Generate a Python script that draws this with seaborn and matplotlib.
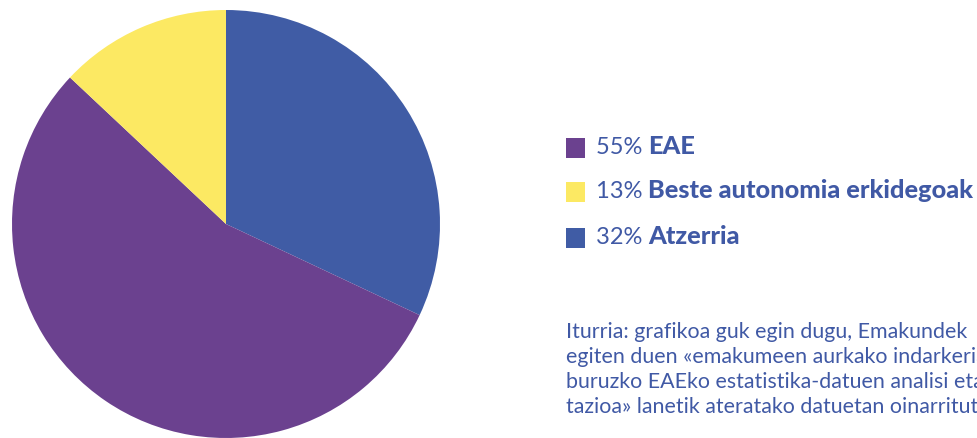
import matplotlib
matplotlib.use("Agg")
import matplotlib.pyplot as plt
import seaborn as sns
from matplotlib.patches import Rectangle

# Datuak
kategoriak = ["EAE", "Beste autonomia erkidegoak", "Atzerria"]
ehunekoak = [55, 13, 32]
koloreak = ["#6B418F", "#FCE963", "#405CA5"]
iturria = [
    "Iturria: grafikoa guk egin dugu, Emakundek",
    "egiten duen «emakumeen aurkako indarkeriari",
    "buruzko EAEko estatistika-datuen analisi eta",
    "tazioa» lanetik ateratako datuetan oinarrituta.",
]

sns.set_theme(style="white")
plt.rcParams["font.family"] = ["Lato", "DejaVu Sans"]
testu_kolorea = "#4059A5"

W, H = 978, 438
fig = plt.figure(figsize=(W / 100, H / 100), dpi=100)

# Tarta: erlojuaren norantzan, goitik hasita (Atzerria, EAE, Beste)
ordena = [2, 0, 1]
ax = fig.add_axes([12 / W, 0 / H, 428 / W, 428 / H])
ax.pie([ehunekoak[i] for i in ordena],
       colors=[koloreak[i] for i in ordena],
       startangle=90, counterclock=False,
       wedgeprops=dict(linewidth=0))
ax.set_xlim(-1, 1)
ax.set_ylim(-1, 1)
ax.set_aspect("equal")
ax.axis("off")

# Legenda eskuz
legenda_y = [148, 192, 238]
for kat, ehun, kol, y in zip(kategoriak, ehunekoak, koloreak, legenda_y):
    fig.patches.append(Rectangle((566 / W, (H - y - 10) / H), 19 / W, 20 / H,
                                 transform=fig.transFigure, facecolor=kol,
                                 edgecolor="none"))
    t = fig.text(596 / W, (H - y) / H, f"{ehun}% ", fontsize=17,
                 fontweight="normal", color=testu_kolorea, va="center")
    ax.annotate(kat, xy=(1, 0), xycoords=t, fontsize=18.3, fontweight="black",
                color=testu_kolorea, va="bottom", ha="left",
                annotation_clip=False)

# Iturria
for i, lerroa in enumerate(iturria):
    fig.text(566 / W, (H - 338 - i * 25) / H, lerroa, fontsize=15.4,
             color=testu_kolorea, va="baseline", ha="left")

fig.savefig("out.png", dpi=100)
